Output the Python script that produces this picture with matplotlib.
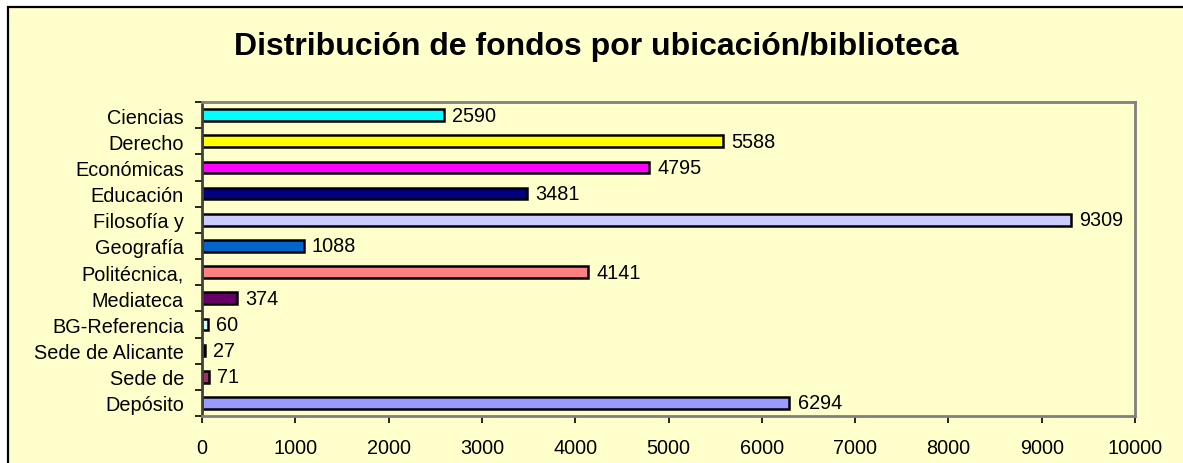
import numpy as np
import matplotlib
matplotlib.use("Agg")
import matplotlib.pyplot as plt
from matplotlib.patches import Rectangle

plt.rcParams['font.family'] = ['Liberation Sans', 'DejaVu Sans']

# data, top to bottom
ubicaciones = ['Ciencias', 'Derecho', 'Económicas', 'Educación', 'Filosofía y',
               'Geografía', 'Politécnica,', 'Mediateca', 'BG-Referencia',
               'Sede de Alicante', 'Sede de', 'Depósito']
fondos = [2590, 5588, 4795, 3481, 9309, 1088, 4141, 374, 60, 27, 71, 6294]
colores = ['#00FFFF', '#FFFF00', '#FF00FF', '#000080', '#CCCCFF', '#0066CC',
           '#FF8080', '#660066', '#CCFFFF', '#000000', '#993366', '#9999FF']
xticks = list(range(0, 10001, 1000))

W, H = 1183, 464
fig = plt.figure(figsize=(W / 100, H / 100), dpi=100)
fig.patch.set_facecolor('white')

# chart area with yellow fill and black frame (right/bottom run off the image)
fig.patches.append(Rectangle((8 / W, -0.1), 1.2, 1 - 8 / H + 0.1,
                             transform=fig.transFigure, facecolor='#FFFFCC',
                             edgecolor='black', linewidth=1.6, zorder=-5))

ax = fig.add_axes([202 / W, 1 - 417 / H, (1135 - 202) / W, (417 - 103) / H])
ax.set_facecolor('#FFFFCC')
ax.set_zorder(2)

y = np.arange(len(ubicaciones))
ax.barh(y, fondos, height=0.45, color=colores, edgecolor='black', linewidth=1.8)
ax.set_ylim(len(ubicaciones) - 0.5, -0.5)
ax.set_xlim(0, 10000)

for yi, v in zip(y, fondos):
    ax.annotate(str(v), (v, yi), xytext=(6, 0), textcoords='offset points',
                va='center', ha='left', fontsize=14.3)

ax.set_yticks(y)
ax.set_yticklabels(ubicaciones, fontsize=14.3)
ax.set_yticks(np.arange(-0.5, len(ubicaciones)), minor=True)
ax.tick_params(axis='y', which='major', length=0, pad=13)
ax.tick_params(axis='y', which='minor', length=5, width=1.2, color='black')
ax.set_xticks(xticks)
ax.set_xticklabels([str(t) for t in xticks], fontsize=14.3)
ax.tick_params(axis='x', length=5, width=1.2, color='black', pad=11)

for s in ax.spines.values():
    s.set_color('#808080')
    s.set_linewidth(2)
ax.spines['left'].set_color('#404040')

fig.text(596 / W, 1 - 47 / H, 'Distribución de fondos por ubicación/biblioteca',
         ha='center', va='center', fontsize=23, fontweight='bold', zorder=3)

fig.savefig('out.png', dpi=100)
